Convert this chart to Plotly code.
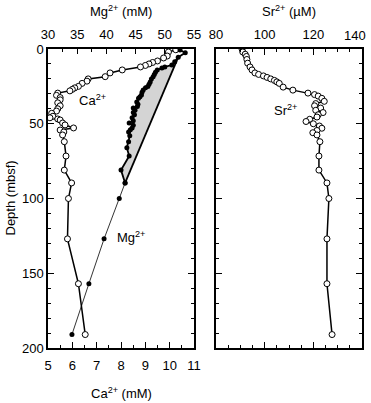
import plotly.graph_objects as go

# ---------------- data ----------------
ca_depth = [0.5, 2, 4.7, 6, 8, 9, 10, 11, 12, 14, 16, 18.5, 20, 21.5, 23, 25, 26, 27, 28,
            29.5, 31, 32.5, 34, 36, 38, 40, 41.5, 43, 45, 46, 46.8, 47.5, 49.5, 50.8, 52.8,
            54.2, 55.5, 57.5, 62, 71.6, 81, 89.6, 100, 127, 157, 191]
ca_val = [10.25, 9.95, 9.9, 9.75, 9.5, 9.3, 9.15, 9.0, 8.8, 8.05, 7.55, 7.35, 6.65, 6.6, 6.4,
          6.25, 6.1, 6.0, 5.9, 5.4, 5.35, 5.5, 5.5, 5.4, 5.5, 5.4, 5.35, 5.15, 5.2, 5.08, 5.4,
          5.5, 5.6, 5.7, 6.05, 5.5, 5.65, 5.6, 5.67, 5.74, 5.67, 5.97, 5.84, 5.8, 6.25, 6.53]

mg_depth = [0.7, 2.5, 5.5, 8.5, 10.7, 12, 12.7, 14, 15.5, 17, 18.5, 20, 22, 23.5, 25, 26,
            27.5, 29, 30.8, 32, 33, 35.5, 37, 38.5, 39.5, 41, 42.5, 44, 46, 48, 49.5, 51,
            52.8, 54, 55.5, 58, 62, 66, 71.6, 81, 89.6]
mg_val = [52.6, 53.5, 52.3, 51.7, 51.2, 50.0, 49.5, 48.7, 48.4, 48.2, 48.0, 47.7, 47.5, 47.3,
          47.1, 46.7, 46.3, 46.1, 46.0, 45.75, 45.5, 45.2, 45.4, 45.3, 44.6, 44.9, 44.6, 44.8,
          44.4, 44.6, 43.9, 44.6, 44.4, 44.1, 43.8, 44.0, 43.8, 43.5, 43.9, 42.5, 43.2]
mg_deep_depth = [89.6, 100, 127, 157, 191]
mg_deep_val = [43.2, 42.2, 39.6, 37.0, 34.1]

sr_depth = [0, 2, 3.5, 5, 7, 9.5, 12, 14, 16, 17, 18, 19, 20, 21, 22, 23, 25.5, 27.5, 29.5,
            30.5, 31.5, 33, 35, 36.5, 38, 39.5, 41, 42.5, 44, 45.5, 47, 48.5, 50, 51.5, 53,
            54.5, 56, 57.5, 62, 71.6, 81, 89.6, 100, 127, 157, 191]
sr_val = [90.7, 91.0, 92.0, 92.5, 92.7, 93.0, 94.0, 94.8, 96.0, 97.5, 99.5, 101.0, 102.5,
          104.0, 105.0, 106.0, 107.6, 111.6, 117.8, 120.5, 122.0, 123.5, 124.5, 121.0, 120.5,
          123.0, 121.0, 124.0, 122.0, 121.5, 118.5, 117.0, 120.0, 122.5, 123.5, 121.5, 119.8,
          121.5, 122.7, 122.3, 122.3, 125.6, 126.4, 125.6, 125.6, 127.7]

sr_ticks = [80, 100, 120]
sr_last_tick = 140

mg_seawater = 53.1
ca_seawater = 10.35
sr_seawater = 90.7

FONT = "Liberation Sans, Arial, sans-serif"
fig = go.Figure()

# shaded area between Mg profile and straight diffusion line
i0 = mg_depth.index(5.5)
poly_x = mg_val[i0:] + [mg_val[i0]]
poly_y = mg_depth[i0:] + [mg_depth[i0]]
fig.add_trace(go.Scatter(x=poly_x, y=poly_y, xaxis="x2", yaxis="y", mode="lines",
                         fill="toself", fillcolor="#d4d4d4", line=dict(width=0),
                         hoverinfo="skip", showlegend=False))
# straight line
fig.add_trace(go.Scatter(x=[mg_val[i0], mg_val[-1]], y=[mg_depth[i0], mg_depth[-1]],
                         xaxis="x2", yaxis="y", mode="lines",
                         line=dict(color="black", width=1.8), showlegend=False))
# Mg deep thin line
fig.add_trace(go.Scatter(x=mg_deep_val, y=mg_deep_depth, xaxis="x2", yaxis="y",
                         mode="lines+markers", line=dict(color="black", width=0.8),
                         marker=dict(color="black", size=5), showlegend=False))
# Mg profile
fig.add_trace(go.Scatter(x=mg_val, y=mg_depth, xaxis="x2", yaxis="y",
                         mode="lines+markers", line=dict(color="black", width=1.8),
                         marker=dict(color="black", size=5), showlegend=False))
# Ca profile
fig.add_trace(go.Scatter(x=ca_val, y=ca_depth, xaxis="x", yaxis="y",
                         mode="lines+markers", line=dict(color="black", width=1.5),
                         marker=dict(color="white", size=6, line=dict(color="black", width=1)),
                         showlegend=False))
# Sr profile
fig.add_trace(go.Scatter(x=sr_val, y=sr_depth, xaxis="x3", yaxis="y2",
                         mode="lines+markers", line=dict(color="black", width=1.5),
                         marker=dict(color="white", size=6, line=dict(color="black", width=1)),
                         showlegend=False))

tickfont = dict(family=FONT, size=13, color="black")
common = dict(showline=True, linecolor="black", linewidth=1.5, ticks="inside",
              tickcolor="black", tickwidth=1, showgrid=False, zeroline=False,
              tickfont=tickfont, automargin=False, ticklabeloverflow="allow")

fig.update_layout(
    width=371, height=403,
    margin=dict(l=48, r=9, t=49, b=55, autoexpand=False),
    paper_bgcolor="white", plot_bgcolor="white",
    font=dict(family=FONT, size=13, color="black"),
    xaxis=dict(domain=[0, 0.465], range=[5, 11], anchor="y", side="bottom",
               dtick=1, ticklen=6, ticklabelstandoff=5,
               minor=dict(dtick=0.5, ticklen=3, ticks="inside", tickcolor="black"),
               **common),
    xaxis2=dict(range=[30, 55], overlaying="x", anchor="y", side="top",
                dtick=5, ticklen=5, ticklabelstandoff=3,
                minor=dict(dtick=2.5, ticklen=3, ticks="inside", tickcolor="black"),
                **common),
    yaxis=dict(domain=[0, 1], range=[200, 0], anchor="x", mirror="ticks",
               dtick=50, ticklen=6,
               minor=dict(dtick=10, ticklen=3.5, ticks="inside", tickcolor="black"),
               **common),
    xaxis3=dict(domain=[0.535, 1], range=[80, 140], anchor="y2", side="top",
                mirror="ticks", tickvals=sr_ticks + [sr_last_tick],
                ticktext=[str(v) for v in sr_ticks] + [""],
                ticklen=6, ticklabelstandoff=3,
                minor=dict(dtick=5, ticklen=3, ticks="inside", tickcolor="black"),
                **common),
    yaxis2=dict(domain=[0, 1], range=[200, 0], anchor="x3", mirror="ticks",
                showticklabels=False, dtick=50, ticklen=6,
                minor=dict(dtick=10, ticklen=3.5, ticks="inside", tickcolor="black"),
                **common),
)

annfont = dict(family=FONT, size=13, color="black")
ann = [
    dict(text="Mg<sup>2+</sup> (mM)", xref="paper", yref="paper", x=0.2325, y=1,
         yshift=38, showarrow=False, font=annfont, xanchor="center", yanchor="middle"),
    dict(text="Sr<sup>2+</sup> (µM)", xref="paper", yref="paper", x=0.7675, y=1,
         yshift=38, showarrow=False, font=annfont, xanchor="center", yanchor="middle"),
    dict(text="Ca<sup>2+</sup> (mM)", xref="paper", yref="paper", x=0.2325, y=0,
         yshift=-45, showarrow=False, font=annfont, xanchor="center", yanchor="middle"),
    dict(text="Depth (mbsf)", xref="paper", yref="paper", x=0, y=0.5, xshift=-38,
         showarrow=False, font=annfont, textangle=-90, xanchor="center", yanchor="middle"),
    dict(text=str(sr_last_tick), xref="x3", yref="paper", x=sr_last_tick, y=1,
         xshift=6, yshift=14, xanchor="right", yanchor="middle", showarrow=False,
         font=annfont),
    dict(text="Ca<sup>2+</sup>", xref="x", yref="y", x=6.81, y=34, showarrow=False,
         font=annfont),
    dict(text="Mg<sup>2+</sup>", xref="x2", yref="y", x=44.2, y=126, showarrow=False,
         font=annfont),
    dict(text="Sr<sup>2+</sup>", xref="x3", yref="y2", x=108.4, y=41, showarrow=False,
         font=annfont),
    # arrows
    dict(text="", xref="x2", yref="y", x=mg_seawater, y=-1.3, ax=0, ay=-21,
         showarrow=True, arrowhead=2, arrowsize=1.2, arrowwidth=1.3, arrowcolor="black"),
    dict(text="", xref="x3", yref="y2", x=sr_seawater, y=-1.3, ax=0, ay=-21,
         showarrow=True, arrowhead=2, arrowsize=1.2, arrowwidth=1.3, arrowcolor="black"),
    dict(text="", xref="x", yref="y", x=ca_seawater, y=201.3, ax=0, ay=23,
         showarrow=True, arrowhead=2, arrowsize=1.2, arrowwidth=1.3, arrowcolor="black"),
]
fig.update_layout(annotations=ann)

fig.write_html("out.html",
               config={"displayModeBar": False},
               post_script="document.body.style.margin='0';"
                           "document.body.style.overflow='hidden';")
